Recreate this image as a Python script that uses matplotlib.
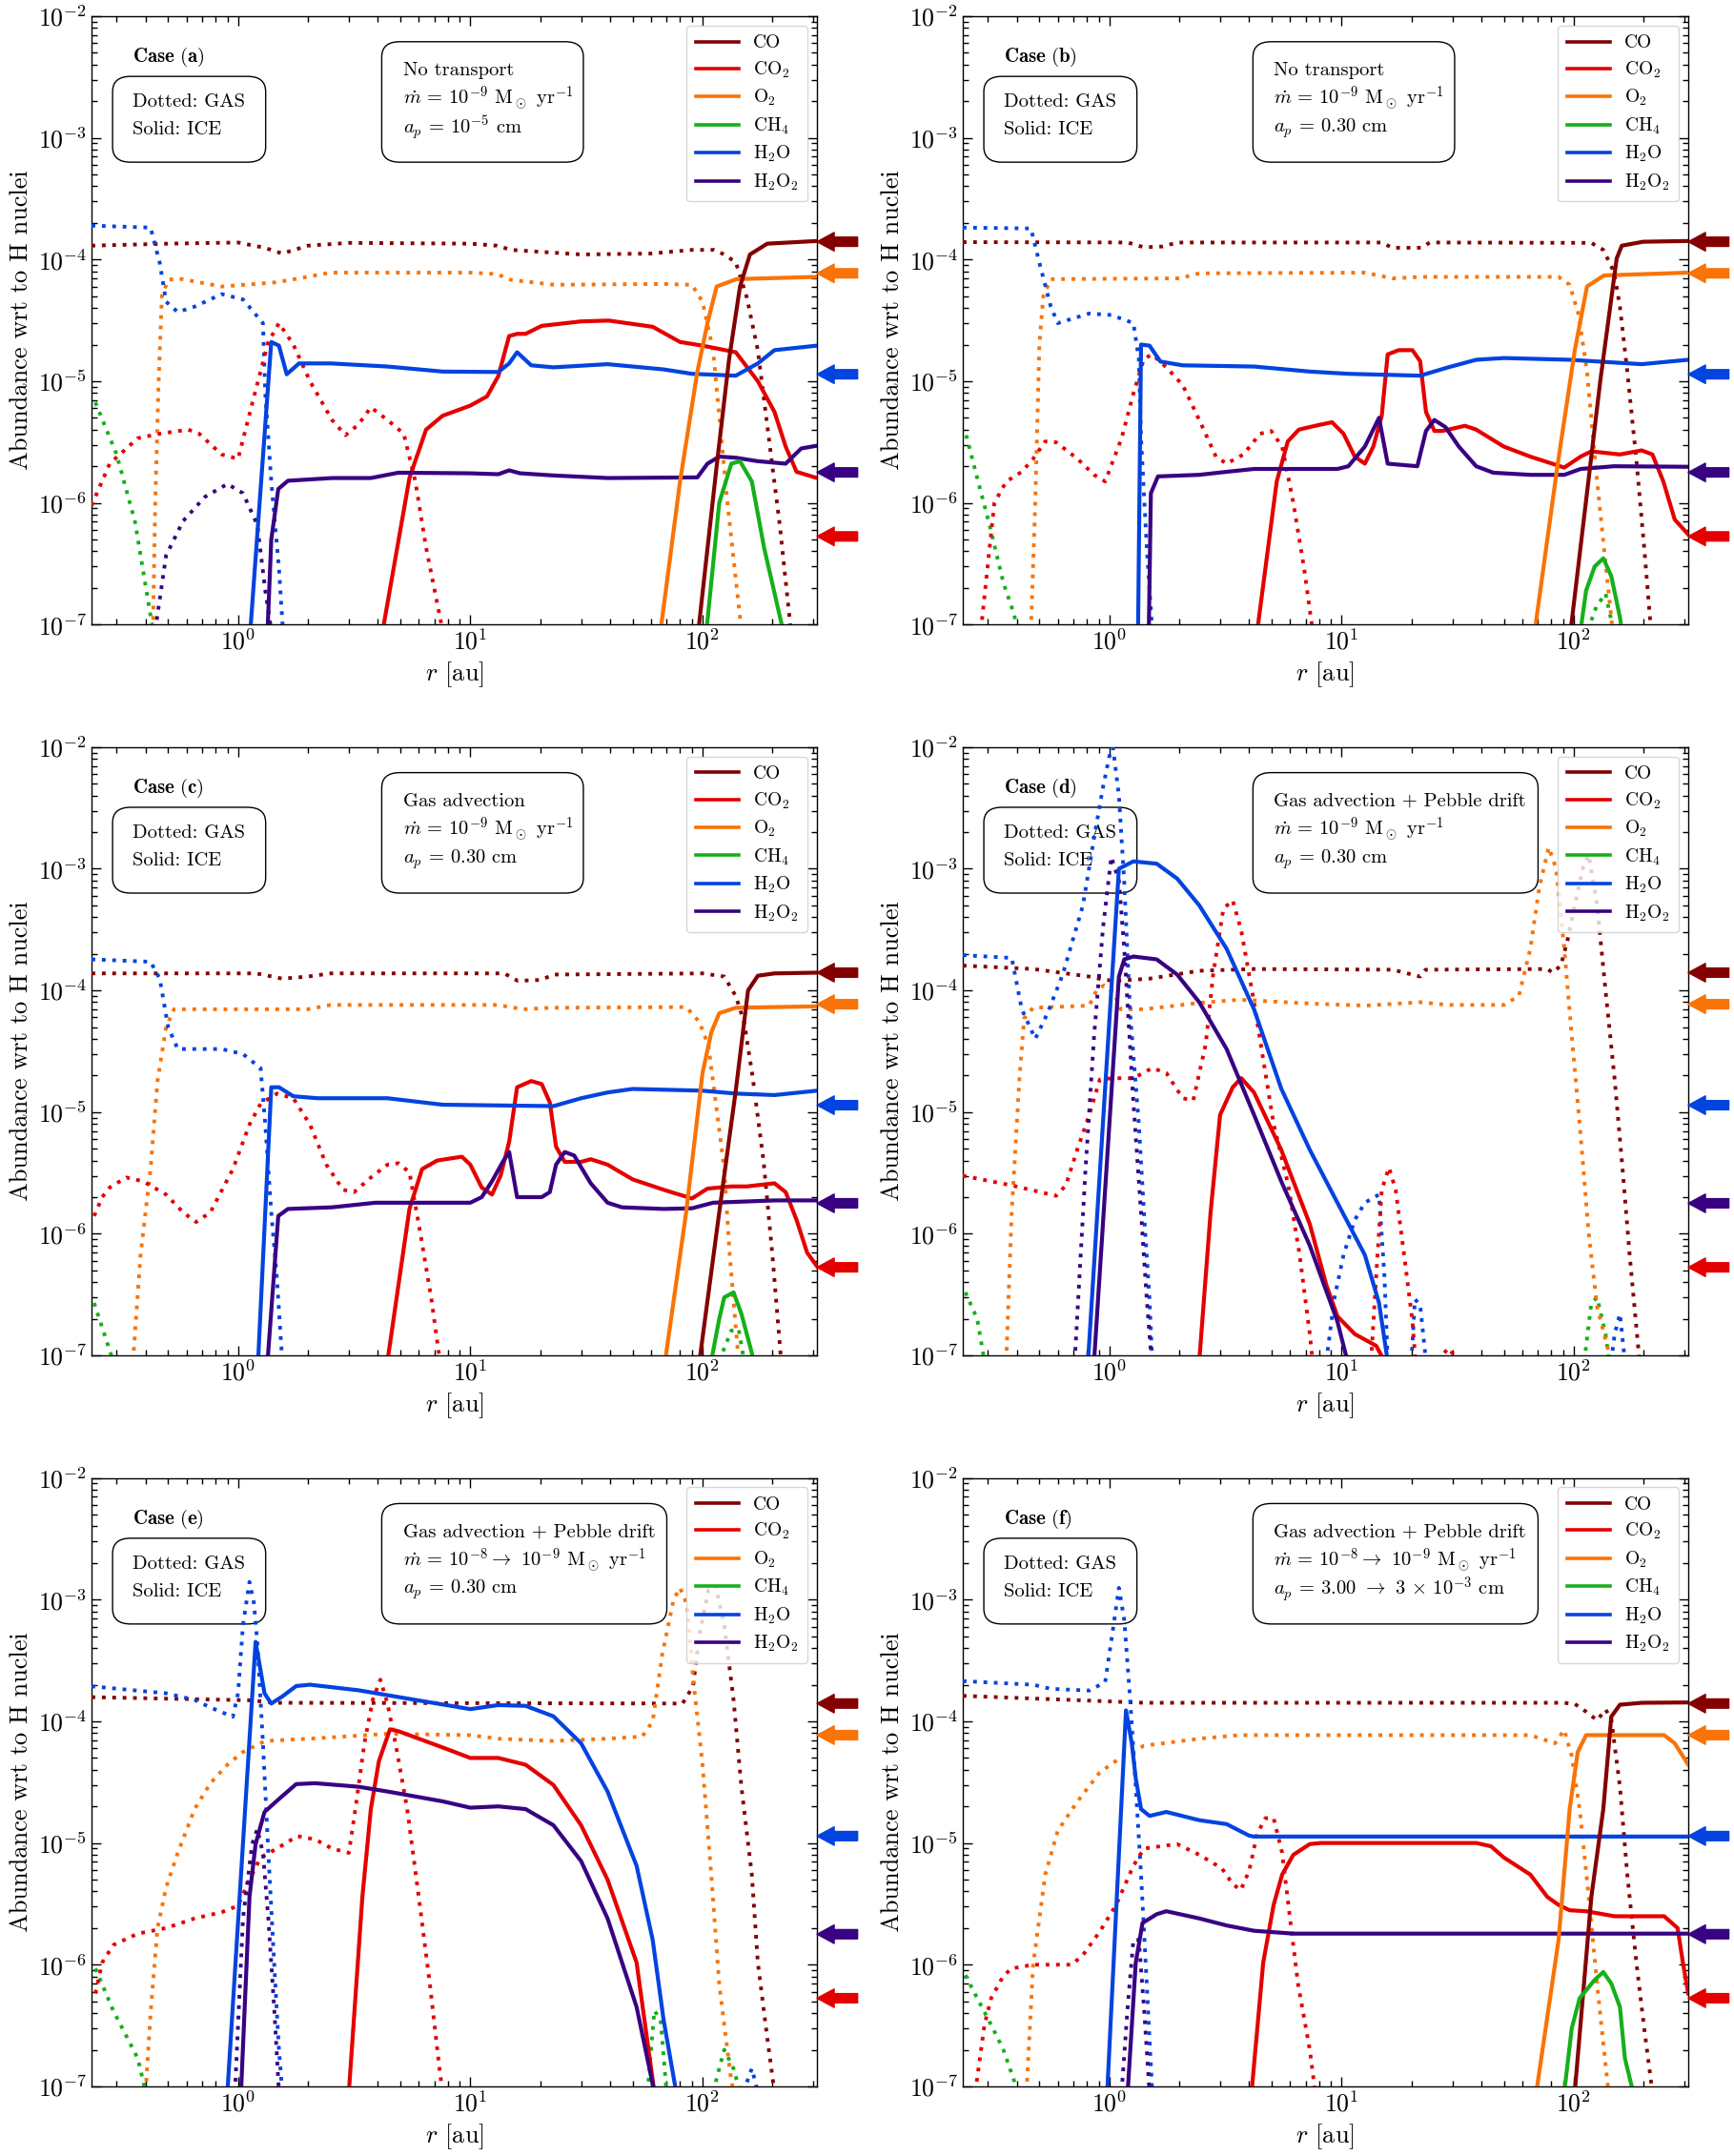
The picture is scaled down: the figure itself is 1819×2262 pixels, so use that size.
import numpy as np
import matplotlib
matplotlib.use("Agg")
import matplotlib.pyplot as plt
from matplotlib.lines import Line2D
from matplotlib.patches import FancyBboxPatch
from matplotlib.ticker import LogLocator

plt.rcParams["font.family"] = "serif"
plt.rcParams["font.serif"] = ["cmr10", "DejaVu Serif"]
plt.rcParams["mathtext.fontset"] = "cm"
plt.rcParams["axes.formatter.use_mathtext"] = True
plt.rcParams["axes.unicode_minus"] = False

# species, legend labels and colours
SPECIES = ["CO", "CO2", "O2", "CH4", "H2O", "H2O2"]
LABELS = ["CO", r"CO$_2$", r"O$_2$", r"CH$_4$", r"H$_2$O", r"H$_2$O$_2$"]
COLORS = {"CO": "#840000", "CO2": "#e50000", "O2": "#f97306",
          "CH4": "#15b01a", "H2O": "#0343df", "H2O2": "#380282"}

# reference abundances marked by the arrows on the right
ARROW_SPECIES = ["CO", "O2", "H2O", "H2O2", "CO2"]
ARROW_VALUES = [1.4e-4, 7.7e-5, 1.14e-5, 1.78e-6, 5.3e-7]

CASES = ["a", "b", "c", "d", "e", "f"]
TRANSPORT = ["No transport", "No transport", "Gas advection",
             "Gas advection + Pebble drift", "Gas advection + Pebble drift",
             "Gas advection + Pebble drift"]
MDOT = [r"$\dot{m}$ = 10$^{-9}$ M$_\odot$ yr$^{-1}$"] * 4 + \
       [r"$\dot{m}$ = 10$^{-8}\rightarrow$ 10$^{-9}$ M$_\odot$ yr$^{-1}$"] * 2
APEB = [r"$a_p$ = 10$^{-5}$ cm", r"$a_p$ = 0.30 cm", r"$a_p$ = 0.30 cm",
        r"$a_p$ = 0.30 cm", r"$a_p$ = 0.30 cm",
        r"$a_p$ = 3.00 $\rightarrow$ 3 $\times$ 10$^{-3}$ cm"]

# ---------------- case (a) ----------------
a_co_gas = [(0.234,1.3e-4),(0.5,1.35e-4),(1.0,1.38e-4),(1.3,1.25e-4),(1.55,1.12e-4),(2.0,1.3e-4),(3.0,1.37e-4),(10,1.35e-4),(13,1.3e-4),(15,1.2e-4),(30,1.1e-4),(60,1.12e-4),(90,1.2e-4),(112,1.2e-4),(124,1.1e-4),(139,9.5e-5),(155,4.9e-5),(173,1.8e-5),(193,3.4e-6),(215,6.6e-7),(240,9e-8)]
a_co_ice = [(96,9e-8),(115,2e-6),(130,1.5e-5),(145,6e-5),(160,1.1e-4),(190,1.35e-4),(311,1.42e-4)]
a_o2_gas = [(0.43,9e-8),(0.44,1e-6),(0.455,1e-5),(0.47,5e-5),(0.5,6.8e-5),(0.55,7e-5),(0.85,6e-5),(1.47,6.5e-5),(2.5,7.8e-5),(10,7.8e-5),(13,7.6e-5),(15,6.8e-5),(23,6.2e-5),(68,6.3e-5),(90,6.2e-5),(100,4.5e-5),(111,1.8e-5),(118,5.2e-6),(128,1e-6),(147,9e-8)]
a_o2_ice = [(66,9e-8),(80,1.5e-6),(95,1.2e-5),(105,3e-5),(115,6e-5),(140,6.9e-5),(311,7.2e-5)]
a_h2o_gas = [(0.234,1.9e-4),(0.42,1.83e-4),(0.46,9.4e-5),(0.49,4.5e-5),(0.55,3.7e-5),(0.65,4.1e-5),(0.85,5.2e-5),(1.05,4.7e-5),(1.28,3e-5),(1.31,7.9e-6),(1.39,1.5e-6),(1.5,2.9e-7),(1.56,9e-8)]
a_h2o_ice = [(1.13,9e-8),(1.39,2.1e-5),(1.5,1.96e-5),(1.62,1.14e-5),(1.83,1.4e-5),(2.5,1.4e-5),(4.4,1.32e-5),(7.6,1.2e-5),(13.2,1.19e-5),(14.7,1.4e-5),(15.9,1.73e-5),(18.3,1.35e-5),(22.8,1.3e-5),(39,1.38e-5),(68,1.25e-5),(90,1.15e-5),(139,1.11e-5),(173,1.4e-5),(204,1.8e-5),(311,1.96e-5)]
a_co2_gas = [(0.234,9.5e-7),(0.28,2.1e-6),(0.37,3.4e-6),(0.46,3.7e-6),(0.61,4e-6),(0.68,3.7e-6),(0.85,2.5e-6),(1.0,2.3e-6),(1.18,7.9e-6),(1.35,2.1e-5),(1.5,3e-5),(1.73,2e-5),(2.04,1e-5),(2.54,4.8e-6),(2.9,3.6e-6),(3.3,4.4e-6),(3.73,6.1e-6),(4.4,4.8e-6),(5.17,3.7e-6),(5.8,1.5e-6),(6.45,4.3e-7),(7.2,1.5e-7),(7.6,9e-8)]
a_co2_ice = [(4.2,9e-8),(5.47,1.6e-6),(6.45,4e-6),(7.6,5.2e-6),(10,6.3e-6),(11.8,7.5e-6),(13.2,1.1e-5),(14.7,2.35e-5),(15.9,2.45e-5),(17.3,2.45e-5),(20.3,2.85e-5),(30,3.1e-5),(39.4,3.15e-5),(61,2.8e-5),(80,2.1e-5),(100,1.96e-5),(139,1.73e-5),(173,1e-5),(204,5.6e-6),(228,2.9e-6),(254,1.8e-6),(311,1.6e-6)]
a_ch4_gas = [(0.243,6.7e-6),(0.3,2.5e-6),(0.36,7e-7),(0.43,9e-8)]
a_ch4_ice = [(104,9e-8),(118,1e-6),(133,2.1e-6),(145,2.2e-6),(163,1.5e-6),(184,4.3e-7),(222,9e-8)]
a_h2o2_gas = [(0.44,9e-8),(0.49,3.7e-7),(0.58,7.1e-7),(0.72,1.12e-6),(0.9,1.43e-6),(1.05,1.2e-6),(1.21,6.6e-7),(1.31,1.9e-7),(1.39,9e-8)]
a_h2o2_ice = [(1.34,9e-8),(1.39,5e-7),(1.49,1.3e-6),(1.64,1.52e-6),(2.54,1.6e-6),(3.73,1.6e-6),(4.9,1.77e-6),(10,1.75e-6),(13.2,1.72e-6),(14.7,1.85e-6),(16.4,1.75e-6),(22.8,1.68e-6),(39,1.6e-6),(95,1.62e-6),(105,2.1e-6),(118,2.4e-6),(139,2.35e-6),(173,2.2e-6),(228,2.1e-6),(266,2.8e-6),(311,2.95e-6)]

# ---------------- case (b) ----------------
b_co_gas = [(0.234,1.39e-4),(1.2,1.38e-4),(1.41,1.26e-4),(1.7,1.28e-4),(1.96,1.38e-4),(14.9,1.38e-4),(16.5,1.25e-4),(22,1.25e-4),(24,1.38e-4),(119,1.37e-4),(134,1.2e-4),(149,7.9e-5),(158,4.1e-5),(170,1.2e-5),(186,2.25e-6),(201,4.3e-7),(215,9e-8)]
b_co_ice = [(97,9e-8),(130,1e-5),(153,1.02e-4),(161,1.3e-4),(199,1.4e-4),(311,1.42e-4)]
b_o2_gas = [(0.46,9e-8),(0.48,1e-6),(0.5,2e-5),(0.52,5e-5),(0.56,6.9e-5),(2.0,7e-5),(2.44,7.7e-5),(12.6,7.8e-5),(16.6,7e-5),(22,7.2e-5),(86,7.2e-5),(96,6.2e-5),(105,3.5e-5),(114,1.2e-5),(126,1.5e-6),(141,1.9e-7),(147,9e-8)]
b_o2_ice = [(68,9e-8),(85,2e-6),(101,1.8e-5),(114,6e-5),(135,7.4e-5),(311,7.8e-5)]
b_h2o_gas = [(0.234,1.83e-4),(0.46,1.8e-4),(0.5,9.4e-5),(0.56,4.1e-5),(0.6,3e-5),(0.82,3.6e-5),(1.02,3.5e-5),(1.27,3e-5),(1.34,1.53e-5),(1.37,3.4e-6),(1.45,4.3e-7),(1.53,9e-8)]
b_h2o_ice = [(1.33,9e-8),(1.37,2e-5),(1.49,1.96e-5),(1.66,1.45e-5),(2.07,1.35e-5),(4.2,1.32e-5),(7.3,1.2e-5),(10.7,1.15e-5),(21.8,1.11e-5),(28.8,1.3e-5),(38,1.5e-5),(50,1.55e-5),(96,1.5e-5),(196,1.38e-5),(311,1.5e-5)]
b_co2_gas = [(0.28,9e-8),(0.32,1e-6),(0.36,1.5e-6),(0.42,1.8e-6),(0.47,2.3e-6),(0.53,3.2e-6),(0.59,3.15e-6),(0.73,2.3e-6),(0.86,1.7e-6),(0.96,1.5e-6),(1.13,3.4e-6),(1.27,7.9e-6),(1.41,1.53e-5),(1.53,1.66e-5),(1.76,1.3e-5),(2.07,9.3e-6),(2.44,4.8e-6),(2.88,2.4e-6),(3.2,2.1e-6),(3.78,2.5e-6),(4.46,3.7e-6),(4.98,3.9e-6),(5.55,2.9e-6),(6.2,1e-6),(6.9,2.9e-7),(7.5,9e-8)]
b_co2_ice = [(4.34,9e-8),(5.26,1.5e-6),(5.87,3.2e-6),(6.55,4e-6),(7.7,4.3e-6),(9.1,4.6e-6),(10.2,3.7e-6),(11.4,2.4e-6),(12.6,2.1e-6),(13.7,2.9e-6),(14.9,5.2e-6),(15.8,1.66e-5),(17.6,1.8e-5),(20.2,1.8e-5),(21.8,1.46e-5),(23.1,5.6e-6),(25.1,3.9e-6),(27.2,3.9e-6),(34,4.3e-6),(38,4e-6),(50,2.9e-6),(65,2.4e-6),(91,1.95e-6),(107,2.4e-6),(119,2.65e-6),(158,2.5e-6),(196,2.7e-6),(218,2.5e-6),(243,1.5e-6),(272,7.3e-7),(311,5.5e-7)]
b_ch4_gas = [(0.242,3.6e-6),(0.27,1.6e-6),(0.305,6.6e-7),(0.35,2.2e-7),(0.39,1.2e-7),(0.4,9e-8)]
b_ch4_gas2 = [(115,9e-8),(125,1.4e-7),(137,1.8e-7),(148,9e-8)]
b_ch4_ice = [(107,9e-8),(113,1.9e-7),(123,3e-7),(134,3.5e-7),(145,2.5e-7),(158,1.15e-7),(161,9e-8)]
b_h2o2_ice = [(1.48,9e-8),(1.51,1.2e-6),(1.62,1.65e-6),(2.44,1.7e-6),(3.2,1.8e-6),(4.2,1.9e-6),(9.6,1.9e-6),(10.7,2e-6),(12.6,2.9e-6),(14.5,5e-6),(15.8,2.1e-6),(21.2,2e-6),(23.1,3.9e-6),(25.1,4.8e-6),(28,4.2e-6),(32,2.9e-6),(38,2e-6),(45,1.77e-6),(65,1.7e-6),(91,1.7e-6),(107,1.9e-6),(149,2e-6),(311,1.98e-6)]

# ---------------- case (c) ----------------
c_co_gas = [(0.234,1.38e-4),(1.2,1.38e-4),(1.55,1.25e-4),(2.0,1.3e-4),(2.5,1.38e-4),(14,1.38e-4),(16,1.2e-4),(20,1.22e-4),(23,1.35e-4),(100,1.38e-4),(124,1.3e-4),(139,9e-5),(151,5.5e-5),(164,2e-5),(183,4e-6),(200,6.6e-7),(218,9e-8)]
c_co_ice = [(97,9e-8),(118,1.5e-6),(139,1.5e-5),(157,1e-4),(173,1.32e-4),(204,1.38e-4),(311,1.4e-4)]
c_o2_gas = [(0.353,9e-8),(0.38,6.6e-7),(0.42,3.4e-6),(0.45,1.8e-5),(0.49,5e-5),(0.53,7e-5),(2.0,7e-5),(2.5,7.6e-5),(13,7.6e-5),(17,7e-5),(22,7.2e-5),(85,7.3e-5),(97,5.5e-5),(106,3.5e-5),(114,1.2e-5),(124,3.4e-6),(131,6.6e-7),(143,9e-8)]
c_o2_ice = [(69,9e-8),(85,1.5e-6),(100,2.1e-5),(109,4.5e-5),(118,6.5e-5),(139,7.2e-5),(311,7.4e-5)]
c_h2o_gas = [(0.234,1.8e-4),(0.42,1.72e-4),(0.46,1.25e-4),(0.5,5e-5),(0.55,3.3e-5),(0.85,3.3e-5),(1.05,3e-5),(1.25,2.3e-5),(1.31,7.9e-6),(1.39,1.5e-6),(1.47,4.3e-7),(1.55,9e-8)]
c_h2o_ice = [(1.22,9e-8),(1.39,1.6e-5),(1.5,1.6e-5),(1.73,1.35e-5),(2.2,1.3e-5),(4.4,1.3e-5),(7.6,1.15e-5),(22.8,1.12e-5),(30,1.3e-5),(39,1.45e-5),(50,1.55e-5),(100,1.5e-5),(139,1.42e-5),(204,1.38e-5),(311,1.5e-5)]
c_co2_gas = [(0.24,1.4e-6),(0.26,2e-6),(0.28,2.4e-6),(0.33,2.9e-6),(0.39,2.7e-6),(0.49,2.1e-6),(0.58,1.5e-6),(0.66,1.25e-6),(0.76,1.5e-6),(0.95,3.4e-6),(1.12,7.9e-6),(1.25,1.17e-5),(1.47,1.42e-5),(1.73,1.3e-5),(2.04,7.9e-6),(2.4,3.7e-6),(2.83,2.3e-6),(3.16,2.2e-6),(3.73,2.9e-6),(4.4,3.7e-6),(4.9,3.8e-6),(5.47,3.2e-6),(6.1,1e-6),(6.8,2.9e-7),(7.4,9e-8)]
c_co2_ice = [(4.4,9e-8),(5.47,1.6e-6),(6.2,3.4e-6),(7.2,4e-6),(9.2,4.3e-6),(10,3.7e-6),(11.2,2.4e-6),(12.4,2.1e-6),(13.5,3e-6),(14.7,5.7e-6),(15.9,1.6e-5),(18.3,1.8e-5),(20.3,1.7e-5),(22,1.2e-5),(23.4,5.2e-6),(25.5,3.9e-6),(30,3.9e-6),(33,4.1e-6),(39,3.7e-6),(50,2.8e-6),(68,2.3e-6),(90,1.95e-6),(105,2.35e-6),(133,2.45e-6),(155,2.45e-6),(204,2.6e-6),(228,2.2e-6),(254,1.3e-6),(282,7e-7),(311,5.4e-7)]
c_ch4_gas = [(0.24,2.7e-7),(0.26,1.7e-7),(0.28,1.1e-7),(0.29,9e-8)]
c_ch4_gas2 = [(118,9e-8),(133,1.6e-7),(143,1.65e-7),(151,9e-8)]
c_ch4_ice = [(109,9e-8),(118,2e-7),(124,3e-7),(136,3.3e-7),(147,2.2e-7),(163,1.05e-7),(165,9e-8)]
c_h2o2_ice = [(1.34,9e-8),(1.49,1.4e-6),(1.64,1.6e-6),(2.54,1.65e-6),(3.9,1.8e-6),(10,1.8e-6),(11.2,2e-6),(12.4,2.7e-6),(13.8,3.9e-6),(14.7,4.7e-6),(15.9,2e-6),(20.3,2e-6),(22,2.2e-6),(23.4,3.7e-6),(25.5,4.7e-6),(28,4.4e-6),(33,2.6e-6),(39,1.8e-6),(45,1.65e-6),(68,1.6e-6),(90,1.62e-6),(111,1.8e-6),(204,1.88e-6),(311,1.88e-6)]

# ---------------- case (d) ----------------
d_co_gas = [(0.234,1.6e-4),(0.47,1.5e-4),(0.82,1.3e-4),(0.96,1.22e-4),(1.07,1.2e-4),(1.49,1.25e-4),(2.44,1.45e-4),(4.2,1.5e-4),(16.6,1.48e-4),(21.8,1.3e-4),(23,1.48e-4),(77,1.5e-4),(81,1.4e-4),(88,1.6e-4),(94,2.6e-4),(101,5e-4),(110,1.06e-3),(116,1.3e-3),(126,5e-4),(137,1e-4),(150,1.85e-5),(162,3.5e-6),(174,6.7e-7),(190,1.1e-7),(192,9e-8)]
d_o2_gas = [(0.36,9e-8),(0.38,1.5e-6),(0.41,1.85e-5),(0.43,5.9e-5),(0.47,7.2e-5),(0.82,7.5e-5),(0.88,1e-4),(0.95,1.1e-4),(1.05,9.5e-5),(1.12,7e-5),(1.41,7e-5),(2.44,7.9e-5),(3.65,8.4e-5),(7.3,7.8e-5),(12.6,7.5e-5),(21.8,8e-5),(28.8,7.6e-5),(50,7.6e-5),(58,9e-5),(65,2.2e-4),(71,7e-4),(78,1.5e-3),(84,1e-3),(91,2.2e-4),(98,4.2e-5),(106,8e-6),(116,1e-6),(126,2.5e-7),(141,1.1e-7),(143,9e-8)]
d_ch4_gas = [(0.24,3.3e-7),(0.27,2e-7),(0.29,9e-8)]
d_ch4_gas2 = [(111,9e-8),(119,2.7e-7),(126,3e-7),(137,1.5e-7),(142,9e-8)]
d_h2o_gas = [(0.234,1.95e-4),(0.38,1.85e-4),(0.42,7e-5),(0.48,4e-5),(0.54,6.4e-5),(0.63,1.35e-4),(0.77,5e-4),(0.86,1.8e-3),(0.94,4.7e-3),(1.03,1.1e-2),(1.1,4e-3),(1.16,7.7e-4),(1.23,6.4e-5),(1.34,8e-6),(1.41,1.5e-6),(1.49,2.9e-7),(1.53,9e-8)]
d_h2o_gas2 = [(8.6,9e-8),(9.3,2.9e-7),(10.2,6.7e-7),(11.4,1.3e-6),(12.6,1.8e-6),(14.5,2.1e-6),(15.3,4.5e-7),(15.8,9e-8)]
d_h2o_gas3 = [(20.0,9e-8),(20.7,2.9e-7),(21.8,2.6e-7),(23.1,9e-8)]
d_h2o_gas4 = [(145,9e-8),(150,1.5e-7),(158,2.2e-7),(166,9e-8)]
d_h2o_ice = [(0.81,9e-8),(1.1,1e-3),(1.27,1.15e-3),(1.6,1.1e-3),(1.96,8.3e-4),(2.44,5e-4),(3.2,2.2e-4),(4.2,7e-5),(5.5,1.56e-5),(7.3,4.9e-6),(9.6,1.8e-6),(12.6,6.7e-7),(14.5,2.7e-7),(15.8,9e-8)]
d_h2o2_gas = [(0.71,9e-8),(0.79,3.4e-6),(0.86,4.2e-5),(0.94,3.3e-4),(1.02,1.25e-3),(1.1,8e-4),(1.16,2.2e-4),(1.27,1.2e-5),(1.37,1.5e-6),(1.45,2.9e-7),(1.52,9e-8)]
d_h2o2_ice = [(0.86,9e-8),(1.1,1.3e-4),(1.16,1.8e-4),(1.27,1.9e-4),(1.6,1.8e-4),(1.96,1.35e-4),(2.44,8e-5),(3.2,3.3e-5),(4.2,9.5e-6),(5.5,2.7e-6),(7.3,8e-7),(9.6,1.9e-7),(10.6,9e-8)]
d_co2_gas = [(0.234,3e-6),(0.38,2.5e-6),(0.59,2.05e-6),(0.65,2.5e-6),(0.73,5e-6),(0.82,9.5e-6),(0.91,1.85e-5),(1.03,1.9e-5),(1.27,1.9e-5),(1.53,2.3e-5),(1.76,2.1e-5),(2.07,1.3e-5),(2.3,1.25e-5),(2.6,3.6e-5),(2.8,1.35e-4),(3.1,4.7e-4),(3.4,5.5e-4),(3.7,3.1e-4),(4.2,8e-5),(4.7,2.1e-5),(5.1,8e-6),(5.9,2.5e-6),(6.6,6.7e-7),(7.3,1.5e-7),(7.5,9e-8)]
d_co2_gas2 = [(13.4,9e-8),(14.1,4.5e-7),(14.9,2.3e-6),(16,3.5e-6),(17.1,2.3e-6),(18.6,6.7e-7),(20.2,1.9e-7),(20.8,9e-8)]
d_co2_gas3 = [(26,9e-8),(28.8,1.15e-7),(32,9e-8)]
d_co2_ice = [(2.44,9e-8),(2.73,1.5e-6),(3.0,9.5e-6),(3.4,1.6e-5),(3.7,1.9e-5),(4.2,1.45e-5),(5.5,4.9e-6),(7.3,1.2e-6),(8.6,3.8e-7),(9.6,2.1e-7),(11.4,1.5e-7),(14.1,1.2e-7),(15.3,9e-8)]

# ---------------- case (e) ----------------
e_co_gas = [(0.234,1.58e-4),(1.12,1.49e-4),(1.47,1.42e-4),(82,1.4e-4),(91,1.94e-4),(97,5.2e-4),(106,1.2e-3),(114,1.3e-3),(124,6.2e-4),(136,1.5e-4),(147,2.9e-5),(163,5.5e-6),(173,1.04e-6),(190,2.5e-7),(204,9e-8)]
e_o2_gas = [(0.4,9e-8),(0.42,4e-7),(0.45,2e-6),(0.49,4.3e-6),(0.55,8.3e-6),(0.65,1.9e-5),(0.76,3.1e-5),(0.9,4.4e-5),(1.05,5.6e-5),(1.31,6.9e-5),(2.04,7.2e-5),(4.4,7.9e-5),(10,7.7e-5),(13.2,7.2e-5),(22.8,6.9e-5),(39,7.2e-5),(55,7.5e-5),(61,1e-4),(67,3.5e-4),(75,1e-3),(80,1.25e-3),(86,9e-4),(91,2.3e-4),(100,4.4e-5),(109,5.5e-6),(118,6.9e-7),(133,1.1e-7),(136,9e-8)]
e_ch4_gas = [(0.243,9.3e-7),(0.26,6.9e-7),(0.29,4.2e-7),(0.33,2.6e-7),(0.37,1.7e-7),(0.4,9e-8)]
e_ch4_gas2 = [(58,9e-8),(62,4.2e-7),(66,3.5e-7),(70,9e-8)]
e_ch4_gas3 = [(111,9e-8),(124,2e-7),(136,1.4e-7),(145,9e-8)]
e_h2o_gas = [(0.234,1.94e-4),(0.49,1.7e-4),(0.65,1.5e-4),(0.76,1.3e-4),(0.95,1.09e-4),(1.0,1.7e-4),(1.05,6.2e-4),(1.12,1.4e-3),(1.17,9.4e-4),(1.21,4.5e-4),(1.28,6.6e-5),(1.35,8.3e-6),(1.43,1.04e-6),(1.5,2e-7),(1.55,9e-8)]
e_h2o_gas2 = [(150,9e-8),(163,1.4e-7),(173,9e-8)]
e_h2o_ice = [(0.9,9e-8),(1.19,4.5e-4),(1.3,1.7e-4),(1.39,1.4e-4),(1.55,1.6e-4),(1.78,1.95e-4),(2.04,2e-4),(3.3,1.8e-4),(5.8,1.5e-4),(10,1.26e-4),(13.2,1.36e-4),(17.3,1.34e-4),(22.8,1.1e-4),(30,6.6e-5),(39,2.65e-5),(52,6.5e-6),(61,1.6e-6),(68,3.5e-7),(77,9e-8)]
e_h2o2_gas = [(0.97,9e-8),(1.05,2.4e-6),(1.15,9.8e-6),(1.21,1.3e-5),(1.28,8.3e-6),(1.35,2.4e-6),(1.43,4.5e-7),(1.5,9e-8)]
e_h2o2_ice = [(1.03,9e-8),(1.12,3.6e-6),(1.19,9.8e-6),(1.3,1.8e-5),(1.5,2.3e-5),(1.78,3.05e-5),(2.15,3.1e-5),(3.3,2.9e-5),(4.4,2.65e-5),(7.6,2.2e-5),(10,1.95e-5),(13.2,2e-5),(17.3,1.9e-5),(22.8,1.4e-5),(30,7.1e-6),(39,2.4e-6),(52,4.5e-7),(62,9e-8)]
e_co2_gas = [(0.243,5.8e-7),(0.26,1.04e-6),(0.29,1.45e-6),(0.37,1.8e-6),(0.49,2e-6),(0.65,2.4e-6),(0.85,2.7e-6),(1.0,3.05e-6),(1.12,5e-6),(1.25,7.6e-6),(1.47,9e-6),(1.8,1.14e-5),(2.15,1.07e-5),(2.54,9e-6),(3.0,8.3e-6),(3.2,1.9e-5),(3.5,6.6e-5),(3.8,1.5e-4),(4.1,2.2e-4),(4.4,1.4e-4),(4.8,6.1e-5),(5.35,1.9e-5),(6.0,3.6e-6),(6.7,6.9e-7),(7.4,1.3e-7),(7.6,9e-8)]
e_co2_ice = [(3.0,9e-8),(3.43,3.6e-6),(3.73,1.9e-5),(4.04,4.7e-5),(4.51,8.6e-5),(4.9,8.3e-5),(7.6,6.1e-5),(10,5e-5),(13.2,5e-5),(17.3,4.4e-5),(22.8,3e-5),(30,1.4e-5),(39,5e-6),(52,1.04e-6),(62,9e-8)]

# ---------------- case (f) ----------------
f_co_gas = [(0.234,1.62e-4),(0.47,1.54e-4),(0.82,1.48e-4),(1.41,1.42e-4),(90,1.42e-4),(101,1.39e-4),(113,1.2e-4),(126,1.02e-4),(137,1.25e-4),(145,1.05e-4),(158,2.9e-5),(170,5.5e-6),(186,1.04e-6),(201,3e-7),(218,9e-8)]
f_co_ice = [(101,9e-8),(119,3.6e-6),(134,1.9e-5),(145,1.09e-4),(158,1.37e-4),(196,1.42e-4),(311,1.43e-4)]
f_o2_gas = [(0.44,9e-8),(0.47,1e-6),(0.53,5.5e-6),(0.6,1.26e-5),(0.73,2.2e-5),(0.91,3.8e-5),(1.13,5.1e-5),(1.41,6.3e-5),(2.44,7.2e-5),(3.6,7.7e-5),(65,7.7e-5),(83,6.6e-5),(91,8.5e-5),(98,5.2e-5),(106,1.9e-5),(116,3.6e-6),(126,6.9e-7),(141,9e-8)]
f_o2_ice = [(69,9e-8),(86,1.6e-6),(96,1.9e-5),(104,5.6e-5),(113,7.7e-5),(245,7.7e-5),(272,6.6e-5),(311,4.4e-5)]
f_h2o_gas = [(0.234,2.14e-4),(0.47,2e-4),(0.56,1.85e-4),(0.82,1.79e-4),(0.96,2.1e-4),(1.03,5.2e-4),(1.1,1.25e-3),(1.16,6.8e-4),(1.23,1.5e-4),(1.3,2.9e-5),(1.37,5.5e-6),(1.45,6.9e-7),(1.53,9e-8)]
f_h2o_ice = [(0.98,9e-8),(1.18,1.23e-4),(1.25,6.6e-5),(1.3,3.4e-5),(1.37,1.9e-5),(1.49,1.67e-5),(1.76,1.8e-5),(2.44,1.54e-5),(3.2,1.43e-5),(4.0,1.15e-5),(4.2,1.13e-5),(311,1.13e-5)]
f_h2o2_gas = [(1.13,9e-8),(1.2,4.5e-7),(1.27,1.6e-6),(1.34,1.6e-6),(1.41,4.5e-7),(1.49,9e-8)]
f_h2o2_ice = [(1.2,9e-8),(1.3,1.04e-6),(1.39,2.2e-6),(1.6,2.6e-6),(1.76,2.75e-6),(2.44,2.4e-6),(3.2,2.1e-6),(4.2,1.9e-6),(6.2,1.8e-6),(311,1.8e-6)]
f_co2_gas = [(0.265,9e-8),(0.29,3.2e-7),(0.31,5.3e-7),(0.35,8.1e-7),(0.38,9.3e-7),(0.47,1e-6),(0.69,1e-6),(0.77,1.2e-6),(0.91,1.87e-6),(1.07,3.1e-6),(1.27,6.5e-6),(1.41,9e-6),(1.66,9.4e-6),(1.96,9.8e-6),(2.44,8e-6),(3.05,6.2e-6),(3.4,4.6e-6),(3.68,4.1e-6),(4.0,5.9e-6),(4.34,1.2e-5),(4.7,1.6e-5),(5.1,1.6e-5),(5.55,8.3e-6),(6.0,2.4e-6),(6.5,6.9e-7),(7.3,2e-7),(7.7,9e-8)]
f_co2_ice = [(4.1,9e-8),(4.6,1.04e-6),(5.1,3.1e-6),(5.55,5.5e-6),(6.2,8e-6),(7.3,9.8e-6),(8.15,1e-5),(38,1e-5),(44,9.4e-6),(50,7.6e-6),(65,5.5e-6),(77,3.6e-6),(86,3.1e-6),(96,2.8e-6),(113,2.75e-6),(150,2.5e-6),(245,2.5e-6),(280,2e-6),(295,1.04e-6),(311,5.8e-7)]
f_ch4_gas = [(0.24,8.2e-7),(0.27,5.3e-7),(0.31,3.2e-7),(0.35,2e-7),(0.39,1.1e-7),(0.4,9e-8)]
f_ch4_ice = [(91,9e-8),(98,3e-7),(106,5.3e-7),(123,7.5e-7),(134,8.7e-7),(145,7e-7),(158,4.5e-7),(166,1.7e-7),(180,9e-8)]

PANEL_CURVES = [
    [("CH4", "gas", a_ch4_gas), ("CO", "gas", a_co_gas), ("O2", "gas", a_o2_gas),
     ("H2O", "gas", a_h2o_gas), ("CO2", "gas", a_co2_gas), ("H2O2", "gas", a_h2o2_gas),
     ("CO2", "ice", a_co2_ice), ("H2O", "ice", a_h2o_ice), ("H2O2", "ice", a_h2o2_ice),
     ("O2", "ice", a_o2_ice), ("CO", "ice", a_co_ice), ("CH4", "ice", a_ch4_ice)],
    [("CH4", "gas", b_ch4_gas), ("CH4", "gas", b_ch4_gas2), ("CO", "gas", b_co_gas),
     ("O2", "gas", b_o2_gas), ("H2O", "gas", b_h2o_gas), ("CO2", "gas", b_co2_gas),
     ("CO2", "ice", b_co2_ice), ("H2O", "ice", b_h2o_ice), ("H2O2", "ice", b_h2o2_ice),
     ("O2", "ice", b_o2_ice), ("CO", "ice", b_co_ice), ("CH4", "ice", b_ch4_ice)],
    [("CH4", "gas", c_ch4_gas), ("CH4", "gas", c_ch4_gas2), ("CO", "gas", c_co_gas),
     ("O2", "gas", c_o2_gas), ("H2O", "gas", c_h2o_gas), ("CO2", "gas", c_co2_gas),
     ("CO2", "ice", c_co2_ice), ("H2O", "ice", c_h2o_ice), ("H2O2", "ice", c_h2o2_ice),
     ("O2", "ice", c_o2_ice), ("CO", "ice", c_co_ice), ("CH4", "ice", c_ch4_ice)],
    [("CH4", "gas", d_ch4_gas), ("CH4", "gas", d_ch4_gas2), ("CO", "gas", d_co_gas),
     ("O2", "gas", d_o2_gas), ("H2O", "gas", d_h2o_gas), ("H2O", "gas", d_h2o_gas2),
     ("H2O", "gas", d_h2o_gas3), ("H2O", "gas", d_h2o_gas4), ("CO2", "gas", d_co2_gas),
     ("CO2", "gas", d_co2_gas2), ("CO2", "gas", d_co2_gas3), ("H2O2", "gas", d_h2o2_gas),
     ("CO2", "ice", d_co2_ice), ("H2O", "ice", d_h2o_ice), ("H2O2", "ice", d_h2o2_ice)],
    [("CH4", "gas", e_ch4_gas), ("CH4", "gas", e_ch4_gas2), ("CH4", "gas", e_ch4_gas3),
     ("CO", "gas", e_co_gas), ("O2", "gas", e_o2_gas), ("H2O", "gas", e_h2o_gas),
     ("H2O", "gas", e_h2o_gas2), ("CO2", "gas", e_co2_gas), ("H2O2", "gas", e_h2o2_gas),
     ("CO2", "ice", e_co2_ice), ("H2O", "ice", e_h2o_ice), ("H2O2", "ice", e_h2o2_ice)],
    [("CH4", "gas", f_ch4_gas), ("CO", "gas", f_co_gas), ("O2", "gas", f_o2_gas),
     ("H2O", "gas", f_h2o_gas), ("CO2", "gas", f_co2_gas), ("H2O2", "gas", f_h2o2_gas),
     ("CO2", "ice", f_co2_ice), ("H2O", "ice", f_h2o_ice), ("H2O2", "ice", f_h2o2_ice),
     ("O2", "ice", f_o2_ice), ("CO", "ice", f_co_ice), ("CH4", "ice", f_ch4_ice)],
]

fig, axes = plt.subplots(3, 2, figsize=(18.19, 22.62), dpi=100)
fig.subplots_adjust(left=0.0528, right=0.9736, bottom=0.0323, top=0.9925,
                    wspace=0.201, hspace=0.2014)

handles = [Line2D([0], [0], color=COLORS[s], lw=2.6) for s in SPECIES]

for i, ax in enumerate(axes.flat):
    for sp, phase, pts in PANEL_CURVES[i]:
        r, y = np.array(pts).T
        if phase == "gas":
            ax.plot(r, y, color=COLORS[sp], lw=2.8, ls=(0, (1, 1.8)), zorder=3)
        else:
            ax.plot(r, y, color=COLORS[sp], lw=3.0, ls="-", zorder=3)

    ax.set_xscale("log")
    ax.set_yscale("log")
    ax.set_xlim(0.234, 311)
    ax.set_ylim(1e-7, 1e-2)
    ax.yaxis.set_major_locator(LogLocator(base=10, numticks=10))
    ax.tick_params(which="both", direction="in", top=True, right=True,
                   labelsize=18.5, width=1.0)
    ax.tick_params(which="major", length=7)
    ax.tick_params(which="minor", length=4)
    for sp_ in ax.spines.values():
        sp_.set_linewidth(1.0)
    ax.set_xlabel(r"$r$ [au]", fontsize=19)
    ax.set_ylabel("Abundance wrt to H nuclei", fontsize=19)

    # case label and info boxes
    ax.text(0.057, 0.932, r"$\mathbf{Case\ (%s)}$" % CASES[i], transform=ax.transAxes,
            fontsize=15, va="center", ha="left")
    ax.add_patch(FancyBboxPatch((0.029, 0.76), 0.211, 0.141,
                                boxstyle="round,pad=0,rounding_size=0.025",
                                transform=ax.transAxes, fc="white", ec="black",
                                lw=1.0, zorder=1))
    ax.text(0.057, 0.859, "Dotted: GAS", transform=ax.transAxes, fontsize=14.8,
            va="center", ha="left", zorder=2)
    ax.text(0.057, 0.813, "Solid: ICE", transform=ax.transAxes, fontsize=14.8,
            va="center", ha="left", zorder=2)
    wbox = 0.278 if i < 3 else 0.393
    ax.add_patch(FancyBboxPatch((0.40, 0.76), wbox, 0.198,
                                boxstyle="round,pad=0,rounding_size=0.025",
                                transform=ax.transAxes, fc="white", ec="black",
                                lw=1.0, zorder=1))
    for yy, txt in zip([0.911, 0.865, 0.816], [TRANSPORT[i], MDOT[i], APEB[i]]):
        ax.text(0.429, yy, txt, transform=ax.transAxes, fontsize=14.8,
                va="center", ha="left", zorder=2)

    leg = ax.legend(handles, LABELS, loc="upper right", fontsize=14,
                    handlelength=2.3, handletextpad=0.8, labelspacing=0.42,
                    borderpad=0.5, fancybox=True, framealpha=0.8)
    leg.set_zorder(10)

    # reference abundance arrows outside the right spine
    for sp, val in zip(ARROW_SPECIES, ARROW_VALUES):
        ax.annotate("", xy=(1.0, val), xytext=(1.056, val),
                    xycoords=("axes fraction", "data"),
                    textcoords=("axes fraction", "data"),
                    arrowprops=dict(facecolor=COLORS[sp], edgecolor=COLORS[sp],
                                    width=7, headwidth=14, headlength=13, shrink=0),
                    annotation_clip=False)

fig.savefig("out.png", dpi=100)
